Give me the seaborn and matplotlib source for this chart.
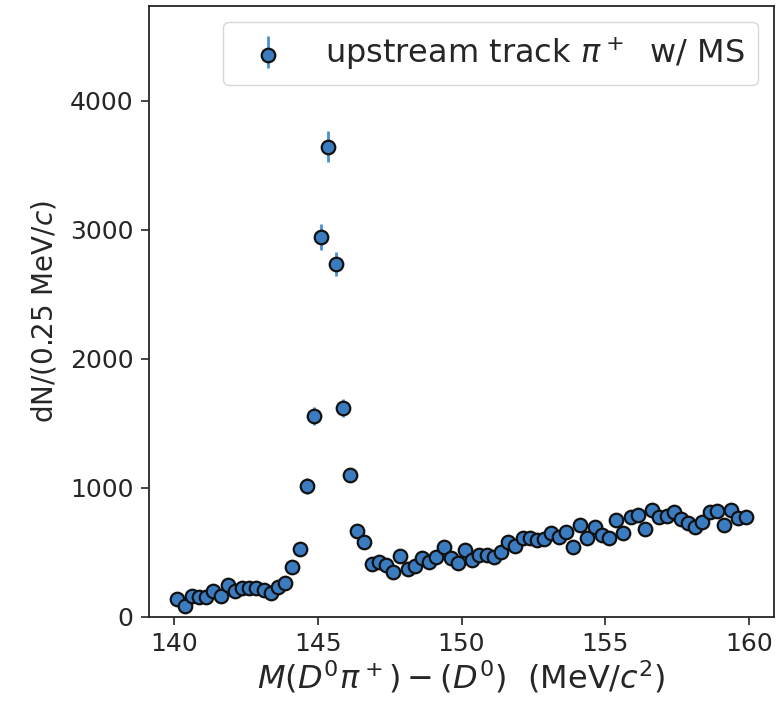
import numpy as np
import pandas as pd
import matplotlib
matplotlib.use("Agg")
import matplotlib.pyplot as plt
import seaborn as sns

# ---- data ----
mass = [140.125 + 0.25 * k for k in range(80)]  # bin centres, 0.25 MeV bins
counts = [140, 85, 163, 152, 152, 204, 163, 248, 204, 222,
          222, 222, 209, 189, 235, 261, 390, 530, 1016, 1558,
          2948, 3646, 2736, 1618, 1100, 667, 579, 411, 429, 403,
          351, 475, 372, 398, 460, 429, 468, 545, 455, 421,
          519, 442, 481, 481, 468, 506, 584, 550, 610, 610,
          597, 602, 649, 623, 661, 540, 713, 615, 695, 636,
          610, 752, 649, 773, 791, 680, 829, 773, 783, 816,
          757, 726, 695, 739, 816, 824, 713, 829, 765, 775]
errors = [25, 20, 28, 27, 27, 31, 28, 34, 31, 32,
          32, 32, 31, 30, 33, 35, 43, 50, 60, 68,
          100, 120, 95, 68, 56, 44, 42, 36, 36, 35,
          33, 38, 34, 35, 37, 36, 38, 41, 37, 36,
          39, 37, 38, 38, 38, 39, 42, 41, 43, 43,
          43, 43, 44, 44, 45, 41, 46, 43, 46, 44,
          43, 48, 44, 48, 49, 45, 50, 48, 48, 49,
          48, 47, 46, 47, 49, 50, 46, 50, 48, 48]
legend_label = r"upstream track $\pi^+$  w/ MS"
xlabel = r"$M(D^0\pi^+) - (D^0)$  (MeV/$c^2$)"
ylabel = r"dN/(0.25 MeV/$c$)"

df = pd.DataFrame({"mass": mass, "counts": counts, "err": errors})

sns.set_theme(style="ticks", rc={
    "axes.edgecolor": "0.15",
    "axes.linewidth": 1.3,
    "xtick.color": "0.15",
    "ytick.color": "0.15",
    "xtick.major.width": 1.2,
    "ytick.major.width": 1.2,
    "xtick.major.size": 6,
    "ytick.major.size": 6,
})
plt.rcParams["font.family"] = ["DejaVu Sans"]
plt.rcParams["mathtext.fontset"] = "dejavusans"

fig = plt.figure(figsize=(7.81, 7.12), dpi=100)
ax = fig.add_axes([149 / 781, 1 - 617 / 712, (774 - 149) / 781, (617 - 6) / 712])

face = "#3b7cc0"
eb = ax.errorbar(df["mass"], df["counts"], yerr=df["err"], fmt="none",
                 ecolor="#4a8fd4", elinewidth=2.0, capsize=0, zorder=2)
sns.scatterplot(data=df, x="mass", y="counts", ax=ax, s=95, color=face,
                edgecolor="#111111", linewidth=1.6, zorder=3, legend=False)
sc = ax.collections[-1]

ax.set_xlim(139.14, 160.86)
ax.set_ylim(0, 4736)
ax.set_xticks([140, 145, 150, 155, 160])
ax.set_yticks([0, 1000, 2000, 3000, 4000])
ax.tick_params(labelsize=18, colors="0.15", pad=5)
ax.set_xlabel(xlabel, fontsize=23, color="0.15", labelpad=2)
ax.set_ylabel(ylabel, fontsize=20, color="0.15", labelpad=8)

ax.legend(handles=[(eb, sc)], labels=[legend_label], loc="upper right",
          fontsize=23, frameon=True, handlelength=2.0)

fig.savefig("out.png", dpi=100)
